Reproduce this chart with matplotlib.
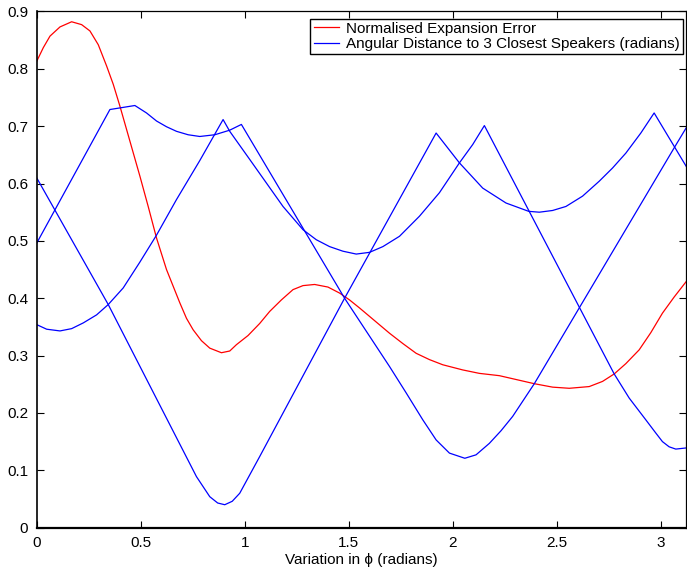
import matplotlib
matplotlib.use("Agg")
import matplotlib.pyplot as plt

plt.rcParams["font.family"] = ["Liberation Sans", "DejaVu Sans"]
plt.rcParams["font.size"] = 11

# red: normalised expansion error
err_x = [0.0, 0.032, 0.064, 0.112, 0.168, 0.216, 0.256, 0.296, 0.336, 0.368, 0.400,
         0.448, 0.496, 0.536, 0.576, 0.624, 0.656, 0.688, 0.720, 0.752, 0.792, 0.832,
         0.888, 0.928, 0.960, 1.016, 1.072, 1.120, 1.176, 1.232, 1.280, 1.336, 1.400,
         1.456, 1.504, 1.552, 1.624, 1.696, 1.760, 1.824, 1.888, 1.952, 2.048, 2.128,
         2.224, 2.392, 2.480, 2.560, 2.656, 2.720, 2.776, 2.832, 2.896, 2.952, 3.008,
         3.064, 3.122]
err_y = [0.813, 0.837, 0.857, 0.873, 0.882, 0.877, 0.866, 0.842, 0.805, 0.773, 0.735,
         0.674, 0.613, 0.560, 0.505, 0.450, 0.421, 0.392, 0.365, 0.345, 0.326, 0.313,
         0.305, 0.308, 0.319, 0.335, 0.356, 0.377, 0.397, 0.415, 0.422, 0.424, 0.4195,
         0.409, 0.397, 0.383, 0.361, 0.339, 0.321, 0.304, 0.293, 0.284, 0.275, 0.269,
         0.265, 0.251, 0.245, 0.243, 0.246, 0.255, 0.268, 0.286, 0.310, 0.340, 0.374,
         0.402, 0.429]

# blue: angular distance to the 3 closest speakers
d1_x = [0.0, 0.344, 0.768, 0.832, 0.870, 0.904, 0.940, 0.976, 1.024, 1.072, 1.480,
        1.920, 2.032, 2.144, 2.256, 2.365, 2.416, 2.480, 2.544, 2.624, 2.704, 2.768,
        2.832, 2.904, 2.968, 3.064, 3.122]
d1_y = [0.610, 0.389, 0.089, 0.054, 0.043, 0.040, 0.046, 0.060, 0.092, 0.124, 0.400,
        0.688, 0.636, 0.592, 0.566, 0.5515, 0.550, 0.553, 0.560, 0.578, 0.604, 0.627,
        0.653, 0.688, 0.723, 0.665, 0.630]

d2_x = [0.0, 0.352, 0.472, 0.528, 0.576, 0.624, 0.672, 0.728, 0.784, 0.856, 0.928,
        0.984, 1.480, 1.696, 1.776, 1.856, 1.920, 1.984, 2.058, 2.112, 2.176, 2.232,
        2.288, 2.392, 3.064, 3.122]
d2_y = [0.496, 0.729, 0.736, 0.723, 0.709, 0.699, 0.691, 0.685, 0.682, 0.685, 0.693,
        0.703, 0.400, 0.281, 0.235, 0.188, 0.153, 0.130, 0.121, 0.127, 0.147, 0.169,
        0.194, 0.251, 0.662, 0.697]

d3_x = [0.0, 0.048, 0.112, 0.168, 0.224, 0.288, 0.344, 0.416, 0.496, 0.576, 0.672,
        0.784, 0.896, 0.928, 1.024, 1.104, 1.184, 1.280, 1.344, 1.408, 1.472, 1.536,
        1.600, 1.664, 1.744, 1.840, 1.936, 2.032, 2.096, 2.152, 2.776, 2.848, 2.928,
        2.976, 3.008, 3.040, 3.072, 3.122]
d3_y = [0.354, 0.346, 0.343, 0.347, 0.357, 0.371, 0.389, 0.418, 0.463, 0.510, 0.572,
        0.640, 0.7115, 0.691, 0.642, 0.601, 0.560, 0.5195, 0.502, 0.490, 0.482, 0.477,
        0.480, 0.490, 0.508, 0.543, 0.584, 0.636, 0.668, 0.701, 0.268, 0.226, 0.188,
        0.165, 0.150, 0.141, 0.137, 0.139]

fig = plt.figure(figsize=(6.87, 5.72), dpi=100)
ax = fig.add_axes([0.0534, 0.0775, 0.9454, 0.9025])

ax.plot(err_x, err_y, color="red", lw=0.9, label="Normalised Expansion Error")
ax.plot(d1_x, d1_y, color="blue", lw=0.9,
        label="Angular Distance to 3 Closest Speakers (radians)")
ax.plot(d2_x, d2_y, color="blue", lw=0.9)
ax.plot(d3_x, d3_y, color="blue", lw=0.9)

ax.set_xlim(0, 3.122)
ax.set_ylim(0, 0.9)
ax.set_xticks([0, 0.5, 1, 1.5, 2, 2.5, 3])
ax.set_xticklabels(["0", "0.5", "1", "1.5", "2", "2.5", "3"])
ax.set_yticks([i / 10 for i in range(10)])
ax.set_yticklabels(["0"] + ["%.1f" % (i / 10) for i in range(1, 10)])
ax.tick_params(direction="in", top=True, right=True, length=5, width=0.8, pad=6)
for s in ax.spines.values():
    s.set_linewidth(0.9)
ax.spines["bottom"].set_linewidth(1.6)
ax.spines["left"].set_linewidth(1.2)

ax.set_xlabel("Variation in ϕ (radians)", labelpad=2)

leg = ax.legend(loc="upper right", bbox_to_anchor=(0.9954, 0.986), fancybox=False,
                edgecolor="black", framealpha=1, borderpad=0.2, labelspacing=0.1,
                handlelength=1.65, handletextpad=0.5, borderaxespad=0)
leg.get_frame().set_linewidth(1.0)

fig.savefig("out.png", dpi=100)
